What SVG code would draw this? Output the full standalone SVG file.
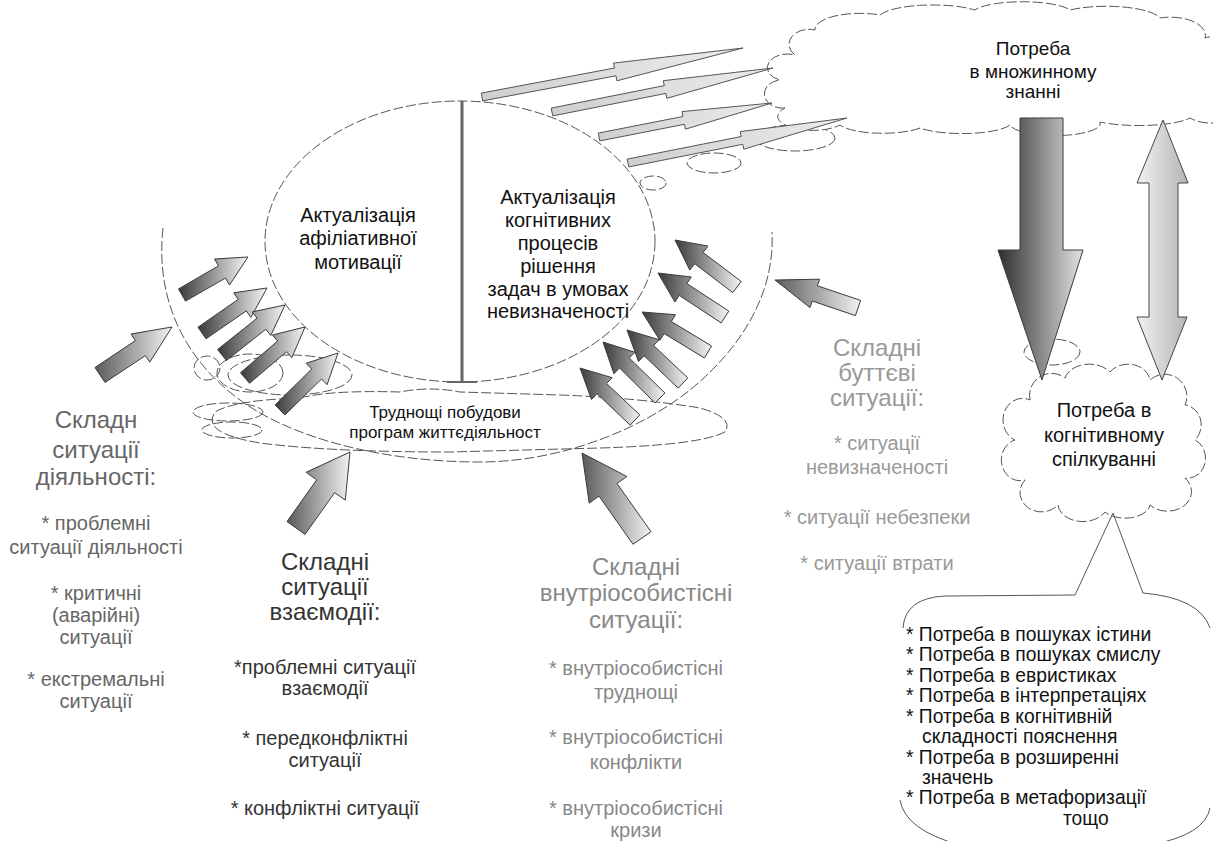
<svg xmlns="http://www.w3.org/2000/svg" width="1213" height="841" viewBox="0 0 1213 841">
<defs>
<linearGradient id="gDark" x1="0" y1="0" x2="1" y2="0"><stop offset="0" stop-color="#3a3a3a"/><stop offset="1" stop-color="#f4f4f4"/></linearGradient>
<linearGradient id="gMid" x1="0" y1="0" x2="1" y2="0"><stop offset="0" stop-color="#5a5a5a"/><stop offset="1" stop-color="#f2f2f2"/></linearGradient>
<linearGradient id="gThin" x1="0" y1="0" x2="1" y2="0"><stop offset="0" stop-color="#cfcfcf"/><stop offset="1" stop-color="#ececec"/></linearGradient>
<linearGradient id="gDown" x1="0" y1="0" x2="1" y2="0"><stop offset="0" stop-color="#2e2e2e"/><stop offset="1" stop-color="#e2e2e2"/></linearGradient>
<linearGradient id="gLight" x1="0" y1="0" x2="1" y2="0"><stop offset="0" stop-color="#f2f2f2"/><stop offset="1" stop-color="#b4b4b4"/></linearGradient>
<style>
.dash{fill:none;stroke:#555;stroke-width:1;stroke-dasharray:10 3}
.cloud{fill:#fff;stroke:#555;stroke-width:1;stroke-dasharray:10 3}
.thin{fill:none;stroke:#555;stroke-width:1}
.ad{fill:url(#gDark);stroke:#3a3a3a;stroke-width:1}
.am{fill:url(#gMid);stroke:#3a3a3a;stroke-width:1}
.at{fill:url(#gThin);stroke:#555;stroke-width:1}
.t{font-family:"Liberation Sans",Arial,sans-serif;text-anchor:middle}
.tl{font-family:"Liberation Sans",Arial,sans-serif;text-anchor:start}
.k{fill:#111}
.h{font-size:24px}
.i{font-size:20px}
</style>
</defs>
<rect width="1213" height="841" fill="#fff"/>

<g id="outer-arc">
<path class="dash" d="M163,228 C155,300 185,360 240,400 C290,437 380,462 480,462 C560,462 640,430 690,390 C745,345 775,290 772,232"/>
</g>

<g id="trail-bubbles">
<ellipse class="dash" cx="714" cy="163" rx="27" ry="10"/>
<ellipse class="dash" cx="653" cy="183" rx="13" ry="7"/>
<ellipse class="dash" cx="795" cy="138" rx="40" ry="13"/>
<ellipse class="dash" cx="1052" cy="352" rx="28" ry="13"/>
</g>

<g id="node-top-cloud">
<path class="cloud" d="M785,108 A18,14 0 0 1 780,80 A18,12 0 0 1 795,55 A20,15 0 0 1 815,30 A45,16 0 0 1 880,15 A55,14 0 0 1 975,10 A50,12 0 0 1 1070,10 A55,15 0 0 1 1160,18 A35,18 0 0 1 1205,38 A25,25 0 0 1 1230,80 A30,22 0 0 1 1190,118 A55,12 0 0 1 1100,122 A45,12 0 0 1 1010,125 A50,12 0 0 1 920,128 A45,12 0 0 1 840,125 A30,12 0 0 1 785,108 Z"/>
<text class="t k" font-size="19" x="1033" y="55">Потреба</text>
<text class="t k" font-size="19" x="1033" y="78">в множинному</text>
<text class="t k" font-size="19" x="1033" y="98">знанні</text>
</g>

<g id="node-inner">
<ellipse class="dash" cx="460" cy="241.5" rx="195" ry="140.5"/>
<line x1="462" y1="101" x2="462" y2="382" stroke="#666" stroke-width="3"/>
<line x1="447" y1="382" x2="477" y2="382" stroke="#666" stroke-width="2"/>
</g>

<g id="node-affiliative">
<text class="t k" font-size="20" x="358" y="222">Актуалізація</text>
<text class="t k" font-size="20" x="358" y="245">афіліативної</text>
<text class="t k" font-size="20" x="358" y="269">мотивації</text>
</g>

<g id="node-cognitive">
<text class="t k" font-size="20" x="558" y="204">Актуалізація</text>
<text class="t k" font-size="20" x="558" y="227">когнітивних</text>
<text class="t k" font-size="20" x="558" y="250">процесів</text>
<text class="t k" font-size="20" x="558" y="273">рішення</text>
<text class="t k" font-size="20" x="558" y="296">задач в умовах</text>
<text class="t k" font-size="20" x="558" y="318">невизначеності</text>
</g>

<g id="node-difficulties">
<ellipse class="dash" cx="207" cy="368" rx="13" ry="12"/>
<ellipse class="dash" cx="250" cy="373" rx="33" ry="19"/>
<ellipse class="dash" cx="290" cy="375" rx="62" ry="20"/>
<path class="dash" d="M300,398 Q330,390 400,392 Q430,386 460,392 L560,395 Q640,398 700,408 Q735,418 725,432 Q700,445 600,448 L450,452 Q330,452 260,443 Q200,433 215,412 Q235,400 300,398 Z"/>
<ellipse class="dash" cx="228" cy="412" rx="35" ry="9"/>
<ellipse class="dash" cx="232" cy="430" rx="30" ry="8"/>
<text class="t k" font-size="17" x="445" y="418">Труднощі побудови</text>
<text class="t k" font-size="17" x="445" y="438">програм життєдіяльност</text>
</g>

<g id="node-cognitive-communication">
<path class="cloud" d="M1030,400 A22,22 0 0 1 1065,378 A25,18 0 0 1 1110,372 A22,18 0 0 1 1150,380 A22,22 0 0 1 1185,405 A18,20 0 0 1 1195,440 A18,20 0 0 1 1185,478 A22,18 0 0 1 1150,505 A25,15 0 0 1 1105,512 A25,18 0 0 1 1058,505 A20,18 0 0 1 1025,480 A18,20 0 0 1 1015,440 A18,20 0 0 1 1030,400 Z"/>
<text class="t k" font-size="20" x="1104" y="417">Потреба в</text>
<text class="t k" font-size="20" x="1104" y="442">когнітивному</text>
<text class="t k" font-size="20" x="1104" y="466">спілкуванні</text>
</g>

<g id="node-needs-list">
<path class="thin" d="M903,628 Q905,598 945,596 L1075,595 L1113,513 L1143,593 Q1200,598 1210,628"/>
<path class="thin" d="M900,800 Q905,830 960,845"/>
<path class="thin" d="M1210,808 Q1205,835 1150,845"/>
<g class="tl k" font-size="19.3">
<text x="906" y="641">* Потреба в пошуках істини</text>
<text x="906" y="661">* Потреба в пошуках смислу</text>
<text x="906" y="682">* Потреба в евристиках</text>
<text x="906" y="702">* Потреба в інтерпретаціях</text>
<text x="906" y="723">* Потреба в когнітивній</text>
<text x="922" y="743">складності пояснення</text>
<text x="906" y="764">* Потреба в розширенні</text>
<text x="922" y="784">значень</text>
<text x="906" y="804">* Потреба в метафоризації</text>
<text x="1063" y="825">тощо</text>
</g>
</g>

<g id="node-activity" fill="#666">
<text class="t h" x="96" y="428">Складн</text>
<text class="t h" x="96" y="458">ситуації</text>
<text class="t h" x="96" y="485">діяльності:</text>
<text class="t i" x="96" y="530">* проблемні</text>
<text class="t i" x="96" y="554">ситуації діяльності</text>
<text class="t i" x="96" y="600">* критичні</text>
<text class="t i" x="96" y="622">(аварійні)</text>
<text class="t i" x="96" y="644">ситуації</text>
<text class="t i" x="96" y="686">* екстремальні</text>
<text class="t i" x="96" y="708">ситуації</text>
</g>

<g id="node-interaction" fill="#333">
<text class="t h" x="325" y="570">Складні</text>
<text class="t h" x="325" y="595">ситуації</text>
<text class="t h" x="325" y="620">взаємодії:</text>
<text class="t i" x="325" y="674">*проблемні ситуації</text>
<text class="t i" x="325" y="695">взаємодії</text>
<text class="t i" x="325" y="745">* передконфліктні</text>
<text class="t i" x="325" y="767">ситуації</text>
<text class="t i" x="325" y="815">* конфліктні ситуації</text>
</g>

<g id="node-intrapersonal" fill="#888">
<text class="t h" x="636" y="575">Складні</text>
<text class="t h" x="636" y="601">внутріособистісні</text>
<text class="t h" x="636" y="628">ситуації:</text>
<text class="t i" x="636" y="675">* внутріособистісні</text>
<text class="t i" x="636" y="699">труднощі</text>
<text class="t i" x="636" y="744">* внутріособистісні</text>
<text class="t i" x="636" y="769">конфлікти</text>
<text class="t i" x="636" y="815">* внутріособистісні</text>
<text class="t i" x="636" y="837">кризи</text>
</g>

<g id="node-existential" fill="#999">
<text class="t h" x="877" y="356">Складні</text>
<text class="t h" x="877" y="381">буттєві</text>
<text class="t h" x="877" y="406">ситуації:</text>
<text class="t i" x="877" y="450">* ситуації</text>
<text class="t i" x="877" y="474">невизначеності</text>
<text class="t i" x="877" y="524">* ситуації небезпеки</text>
<text class="t i" x="877" y="570">* ситуації втрати</text>
</g>

<g id="connectors">
<polygon class="at" points="482.7,100.9 615.9,75.8 616.9,80.8 743,48 613.5,63.1 614.5,68 481.3,93.1"/>
<polygon class="at" points="552.8,115.9 665.9,93.4 666.9,98.3 773,68 663.3,80.7 664.3,85.6 551.2,108.1"/>
<polygon class="at" points="599.8,140.9 684.5,124.3 685.4,129.2 772,103 682,111.6 682.9,116.5 598.2,133.1"/>
<polygon class="at" points="628.8,166.9 742.8,144.3 743.8,149.2 847,118 740.3,131.6 741.2,136.5 627.2,159.1"/>

<polygon fill="url(#gDown)" stroke="#3a3a3a" points="1020,118 1063,118 1063,250 1083,250 1042,380 998,250 1020,250"/>
<polygon fill="url(#gLight)" stroke="#444" points="1163,120 1188,183 1178,183 1178,317 1187,317 1162,380 1137,317 1149,317 1149,183 1137,183"/>

<polygon class="am" points="105,382.5 145.4,355.6 149.8,362.2 172,327 131,334 135.4,340.6 95,367.5"/>
<polygon class="ad" points="185.5,301.1 225.5,278.1 229.5,285 248,257 214.5,259 218.5,265.9 178.5,288.9"/>
<polygon class="ad" points="206,338.8 246.3,310.9 250.9,317.4 267,288 233.7,292.8 238.3,299.3 198,327.2"/>
<polygon class="ad" points="226.4,360.5 265.9,329.2 270.8,335.5 285,305 252.2,311.9 257.1,318.2 217.6,349.5"/>
<polygon class="ad" points="249.5,383.3 286.6,351.7 291.8,357.8 305,327 272.4,335 277.6,341.1 240.5,372.7"/>
<polygon class="ad" points="284.9,415 321.5,379 327.1,384.7 338,353 306.1,363.3 311.7,369 275.1,405"/>

<polygon class="ad" points="741.2,281.4 703.1,252.5 708,246.1 675,240 689.8,270.1 694.7,263.7 732.8,292.6"/>
<polygon class="ad" points="728.8,311.1 686.9,283.6 691.3,277 658,273 674.9,302 679.3,295.4 721.2,322.9"/>
<polygon class="ad" points="711.6,346 671.3,321.5 675.5,314.7 642,312 659.9,340.3 664.1,333.5 704.4,358"/>
<polygon class="ad" points="687.8,377.9 653.6,345.5 659.1,339.7 627,330 638.5,361.5 644,355.7 678.2,388.1"/>
<polygon class="ad" points="664.9,393 629.3,358 634.9,352.3 603,342 613.9,373.7 619.5,368 655.1,403"/>
<polygon class="ad" points="639.8,414.9 606.6,383.5 612.1,377.7 580,368 591.5,399.5 597,393.7 630.2,425.1"/>

<polygon class="am" points="305,534.4 334.7,492.6 345.3,500.1 350,452 306.1,472.3 316.7,479.8 287,521.6"/>
<polygon class="am" points="651,531.7 617,483.5 626.8,476.5 582,453 589.2,503.1 599,496.1 633,544.3"/>
<polygon class="am" points="860.6,300.4 817.4,285.8 819.6,279.2 775,280 810,307.6 812.2,301 855.4,315.6"/>
</g>
</svg>
